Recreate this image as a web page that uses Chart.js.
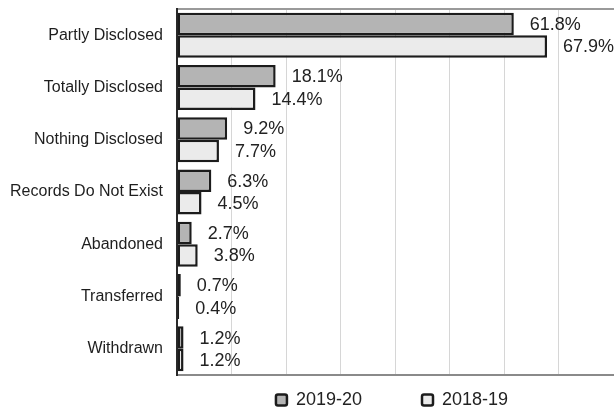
<!DOCTYPE html>
<html>
<head>
<meta charset="utf-8">
<title>Request outcomes</title>
<script src="https://cdn.jsdelivr.net/npm/chart.js@4.4.0/dist/chart.umd.min.js"></script>
<style>
  html, body { margin: 0; padding: 0; background: #fff; }
</style>
</head>
<body>
<canvas id="outcomeChart" width="616" height="411"></canvas>
<script>
// Share of requests by outcome, per reporting year
var outcomeLabels = ["Partly Disclosed", "Totally Disclosed", "Nothing Disclosed", "Records Do Not Exist", "Abandoned", "Transferred", "Withdrawn"];
var share1920 = [61.8, 18.1, 9.2, 6.3, 2.7, 0.7, 1.2];
var share1819 = [67.9, 14.4, 7.7, 4.5, 3.8, 0.4, 1.2];
var seriesNames = ["2019-20", "2018-19"];
var axisMax = 80;
var gridStep = 10;

var FONT = '"Liberation Sans", Arial, Helvetica, sans-serif';
var LEGEND_GAP = 60;     // horizontal space between legend items
var LEGEND_HEIGHT = 36;  // room kept under the plot for the legend

// percentage text just past the end of each bar
var valueLabels = {
  id: 'valueLabels',
  afterDatasetsDraw: function(chart) {
    var ctx = chart.ctx;
    ctx.save();
    ctx.font = '18px ' + FONT;
    ctx.fillStyle = '#222';
    ctx.textAlign = 'left';
    ctx.textBaseline = 'middle';
    chart.data.datasets.forEach(function(ds, i) {
      chart.getDatasetMeta(i).data.forEach(function(bar, j) {
        ctx.fillText(ds.data[j].toFixed(1) + '%', bar.x + 16, bar.y + 1);
      });
    });
    ctx.restore();
  }
};

// the item padding doubles as vertical padding in Chart.js, so the legend
// keeps a fixed slot in the layout and is then stretched over the plot width
var legendUnderPlot = {
  id: 'legendUnderPlot',
  beforeLayout: function(chart) {
    var lg = chart.legend;
    if (lg && !lg._fixedHeight) {
      var fit = lg.fit;
      lg.fit = function() {
        fit.call(this);
        this.height = LEGEND_HEIGHT;
      };
      lg._fixedHeight = true;
    }
  },
  afterLayout: function(chart) {
    var lg = chart.legend;
    var area = chart.chartArea;
    if (!lg) return;
    lg.left = area.left;
    lg.right = area.right - 6;
    lg.width = lg.right - lg.left;
    // text row sits ~25px below the axis line
    lg.top = area.bottom + 25 - LEGEND_GAP - 9;
    lg.bottom = chart.height;
    lg.height = lg.bottom - lg.top;
    lg.adjustHitBoxes();
  }
};

new Chart(document.getElementById('outcomeChart'), {
  type: 'bar',
  data: {
    labels: outcomeLabels,
    datasets: [{
      label: seriesNames[0],
      data: share1920,
      backgroundColor: '#b4b4b4',
      borderColor: '#1c1c1c',
      borderWidth: 2.5,
      borderSkipped: false,
      categoryPercentage: 0.86,
      barPercentage: 1
    }, {
      label: seriesNames[1],
      data: share1819,
      backgroundColor: '#ebebeb',
      borderColor: '#1c1c1c',
      borderWidth: 2.5,
      borderSkipped: false,
      categoryPercentage: 0.86,
      barPercentage: 1
    }]
  },
  options: {
    indexAxis: 'y',
    responsive: false,
    animation: false,
    layout: { padding: { top: 9, right: 3, bottom: 0, left: 0 } },
    scales: {
      x: {
        min: 0,
        max: axisMax,
        ticks: { display: false, stepSize: gridStep },
        grid: {
          drawTicks: false,
          color: function(c) {
            return (c.tick && (c.tick.value === 0 || c.tick.value === axisMax)) ? 'rgba(0,0,0,0)' : '#d6d6d6';
          }
        },
        border: { color: '#8a8a8a', width: 2 },
        afterFit: function(scale) { scale.height = 0; }
      },
      xTop: {
        type: 'linear',
        position: 'top',
        ticks: { display: false },
        grid: { display: false, drawTicks: false },
        border: { color: '#9a9a9a', width: 2 },
        afterFit: function(scale) { scale.height = 0; }
      },
      y: {
        ticks: { color: '#1e1e1e', padding: 14, font: { family: FONT, size: 16 } },
        grid: { display: false, drawTicks: false },
        border: { color: '#2a2a2a', width: 2 },
        afterFit: function(scale) {
          scale.width = 177;
          scale.paddingTop = 0;
          scale.paddingBottom = 0;
        }
      }
    },
    plugins: {
      tooltip: { enabled: false },
      legend: {
        position: 'bottom',
        labels: {
          color: '#222',
          font: { family: FONT, size: 18 },
          boxWidth: 11,
          boxHeight: 11,
          padding: LEGEND_GAP,
          useBorderRadius: true,
          borderRadius: 2
        }
      }
    }
  },
  plugins: [valueLabels, legendUnderPlot]
});
</script>
</body>
</html>
